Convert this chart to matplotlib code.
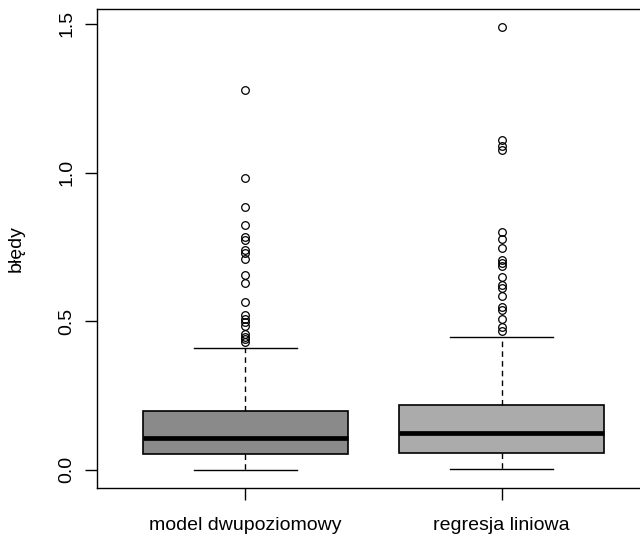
import matplotlib
matplotlib.use("Agg")
import matplotlib.pyplot as plt

plt.rcParams["font.family"] = ["Liberation Sans", "DejaVu Sans"]

# group names and box statistics
groups = ["model dwupoziomowy", "regresja liniowa"]
q1 = [0.053, 0.056]
median = [0.106, 0.125]
q3 = [0.199, 0.218]
whisker_low = [0.0, 0.002]
whisker_high = [0.409, 0.448]

outliers_model = [1.277, 0.981, 0.883, 0.825, 0.783, 0.774, 0.738, 0.730,
                  0.708, 0.654, 0.628, 0.564, 0.519, 0.508, 0.496, 0.485,
                  0.457, 0.448, 0.440, 0.429]
outliers_regr = [1.489, 1.109, 1.090, 1.075, 0.800, 0.775, 0.747, 0.704,
                 0.695, 0.685, 0.648, 0.620, 0.612, 0.583, 0.547, 0.538,
                 0.508, 0.480, 0.468]
outliers = [outliers_model, outliers_regr]

box_colors = ["#8a8a8a", "#ababab"]

fig = plt.figure(figsize=(6.4, 5.38), dpi=100)
# right edge of the plot region is cut off in the original image
ax = fig.add_axes([97 / 640, 50.5 / 538, 553 / 640, 478.2 / 538])

stats = []
for i in range(len(groups)):
    stats.append({
        "label": groups[i],
        "q1": q1[i], "med": median[i], "q3": q3[i],
        "whislo": whisker_low[i], "whishi": whisker_high[i],
        "fliers": outliers[i],
    })

bp = ax.bxp(stats, positions=[1, 2], widths=0.8, capwidths=0.4,
            patch_artist=True, showfliers=True,
            boxprops=dict(edgecolor="black", linewidth=1.2),
            medianprops=dict(color="black", linewidth=3.4, solid_capstyle="butt"),
            whiskerprops=dict(color="black", linewidth=1.0, linestyle=(0, (4, 3))),
            capprops=dict(color="black", linewidth=1.0),
            flierprops=dict(marker="o", markerfacecolor="none",
                            markeredgecolor="black", markersize=5.5,
                            markeredgewidth=0.9))
for patch, c in zip(bp["boxes"], box_colors):
    patch.set_facecolor(c)

ax.set_xlim(0.42, 2.58)
ax.set_ylim(-0.0596, 1.549)
ax.set_yticks([0.0, 0.5, 1.0, 1.5])
ax.set_yticklabels(["0.0", "0.5", "1.0", "1.5"], rotation=90, va="center")
ax.set_xticks([1, 2])
ax.set_xticklabels(groups)
ax.tick_params(axis="both", length=8.5, width=1.0, labelsize=14)
ax.tick_params(axis="y", pad=7)
ax.tick_params(axis="x", pad=13)
ax.set_ylabel("błędy", fontsize=14)
ax.yaxis.set_label_coords(-0.13, 0.5)

for s in ax.spines.values():
    s.set_linewidth(1.0)

fig.savefig("out.png", dpi=100)
